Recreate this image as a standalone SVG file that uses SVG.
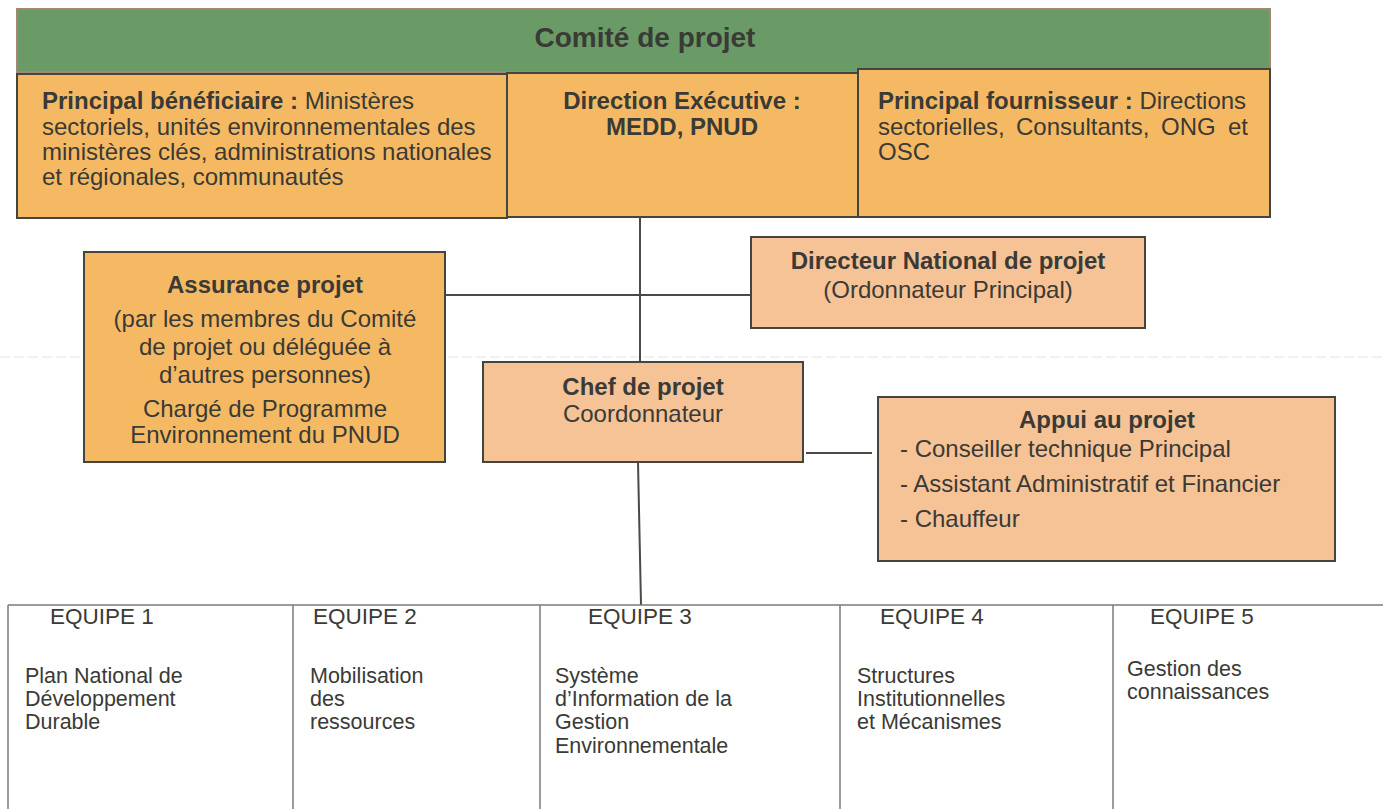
<svg xmlns="http://www.w3.org/2000/svg" width="1383" height="809" viewBox="0 0 1383 809">
<style>
text{font-family:"Liberation Sans",Arial,sans-serif;fill:#3a3a36;}
.b{font-weight:bold;}
.t{font-size:24px;}
.c{text-anchor:middle;}
.orange{fill:#f5b963;stroke:#45453f;stroke-width:2;}
.peach{fill:#f6c397;stroke:#45453f;stroke-width:2;}
.conn{stroke:#4a4a46;stroke-width:2;fill:none;}
.grid{stroke:#7a7a76;stroke-width:1.5;fill:none;}
.eq{font-size:22.5px;}
.tm{font-size:21.5px;}
</style>
<rect width="1383" height="809" fill="#ffffff"/>
<line x1="0" y1="357" x2="1383" y2="357" stroke="#f1dbe6" stroke-width="1.2" stroke-dasharray="10,4"/>

<g id="comite">
<rect x="17" y="9" width="1253" height="63" fill="#6a9b66" stroke="#a58672" stroke-width="2"/>
<text class="b c" x="645" y="47" font-size="28">Comité de projet</text>
</g>

<g id="beneficiaire">
<rect class="orange" x="17" y="74" width="490" height="144"/>
<text class="t" x="42" y="109"><tspan class="b">Principal bénéficiaire :</tspan> Ministères</text>
<text class="t" x="42" y="135">sectoriels, unités environnementales des</text>
<text class="t" x="42" y="160">ministères clés, administrations nationales</text>
<text class="t" x="42" y="185">et régionales, communautés</text>
</g>

<g id="direction">
<rect class="orange" x="507" y="73" width="351" height="144"/>
<text class="t b c" x="682" y="109">Direction Exécutive :</text>
<text class="t b c" x="682" y="135">MEDD, PNUD</text>
</g>

<g id="fournisseur">
<rect class="orange" x="858" y="69" width="412" height="148"/>
<text class="t" x="878" y="109"><tspan class="b">Principal fournisseur :</tspan> Directions</text>
<text class="t" y="135"><tspan x="878">sectorielles,</tspan><tspan x="1016">Consultants,</tspan><tspan x="1161">ONG</tspan><tspan x="1228">et</tspan></text>
<text class="t" x="878" y="160">OSC</text>
</g>

<g id="connectors">
<line class="conn" x1="640" y1="217" x2="640" y2="362"/>
<line class="conn" x1="446" y1="295" x2="751" y2="295"/>
<line class="conn" x1="638" y1="462" x2="641" y2="605"/>
<line class="conn" x1="806" y1="453" x2="872" y2="453"/>
</g>

<g id="assurance">
<rect class="orange" x="84" y="252" width="361" height="210"/>
<text class="t b c" x="265" y="293">Assurance projet</text>
<text class="t c" x="265" y="327">(par les membres du Comité</text>
<text class="t c" x="265" y="355">de projet ou déléguée à</text>
<text class="t c" x="265" y="383">d’autres personnes)</text>
<text class="t c" x="265" y="417">Chargé de Programme</text>
<text class="t c" x="265" y="443">Environnement du PNUD</text>
</g>

<g id="directeur">
<rect class="peach" x="751" y="237" width="394" height="91"/>
<text class="t b c" x="948" y="269">Directeur National de projet</text>
<text class="t c" x="948" y="298">(Ordonnateur Principal)</text>
</g>

<g id="chef">
<rect class="peach" x="483" y="362" width="320" height="100"/>
<text class="t b c" x="643" y="395">Chef de projet</text>
<text class="t c" x="643" y="422">Coordonnateur</text>
</g>

<g id="appui">
<rect class="peach" x="878" y="397" width="457" height="164"/>
<text class="t b c" x="1107" y="428">Appui au projet</text>
<text class="t" x="900" y="457">- Conseiller technique Principal</text>
<text class="t" x="900" y="492">- Assistant Administratif et Financier</text>
<text class="t" x="900" y="527">- Chauffeur</text>
</g>

<g id="equipes-grid">
<line class="grid" x1="8" y1="605" x2="1383" y2="605"/>
<line class="grid" x1="8" y1="605" x2="8" y2="809"/>
<line class="grid" x1="293" y1="605" x2="293" y2="809"/>
<line class="grid" x1="540" y1="605" x2="540" y2="809"/>
<line class="grid" x1="840" y1="605" x2="840" y2="809"/>
<line class="grid" x1="1113" y1="605" x2="1113" y2="809"/>
</g>

<g id="equipe1">
<text class="eq" x="50" y="624">EQUIPE 1</text>
<text class="tm" x="25" y="683">Plan National de</text>
<text class="tm" x="25" y="706">Développement</text>
<text class="tm" x="25" y="729">Durable</text>
</g>

<g id="equipe2">
<text class="eq" x="313" y="624">EQUIPE 2</text>
<text class="tm" x="310" y="683">Mobilisation</text>
<text class="tm" x="310" y="706">des</text>
<text class="tm" x="310" y="729">ressources</text>
</g>

<g id="equipe3">
<text class="eq" x="588" y="624">EQUIPE 3</text>
<text class="tm" x="555" y="683">Système</text>
<text class="tm" x="555" y="706">d’Information de la</text>
<text class="tm" x="555" y="729">Gestion</text>
<text class="tm" x="555" y="753">Environnementale</text>
</g>

<g id="equipe4">
<text class="eq" x="880" y="624">EQUIPE 4</text>
<text class="tm" x="857" y="683">Structures</text>
<text class="tm" x="857" y="706">Institutionnelles</text>
<text class="tm" x="857" y="729">et Mécanismes</text>
</g>

<g id="equipe5">
<text class="eq" x="1150" y="624">EQUIPE 5</text>
<text class="tm" x="1127" y="676">Gestion des</text>
<text class="tm" x="1127" y="699">connaissances</text>
</g>
</svg>
